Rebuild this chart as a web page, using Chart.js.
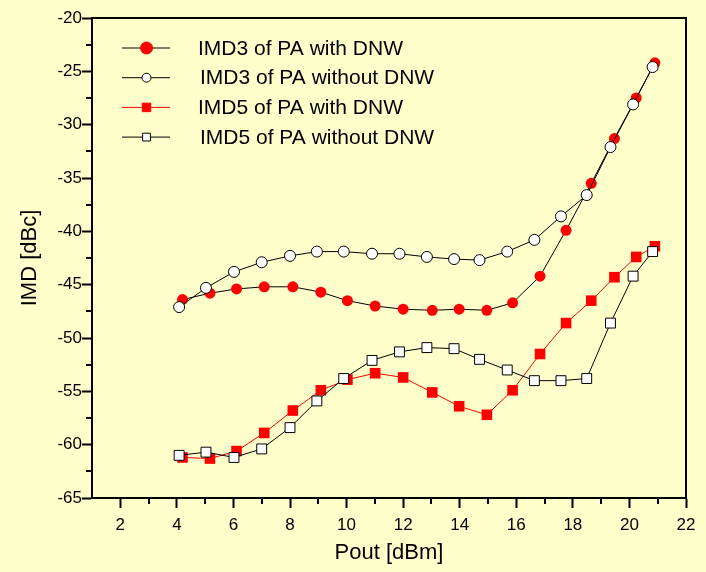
<!DOCTYPE html>
<html>
<head>
<meta charset="utf-8">
<title>IMD vs Pout</title>
<script src="https://cdn.jsdelivr.net/npm/chart.js@4.4.1/dist/chart.umd.min.js"></script>
<style>
  body { margin: 0; background: #ffffcc; }
  canvas { display: block; }
</style>
</head>
<body>
<canvas id="imdChart" width="706" height="572"></canvas>
<script>
// Pout values (dBm) for the two measurement runs
const poutWithDnw = [4.2, 5.17, 6.11, 7.09, 8.1, 9.09, 10.03, 11.01, 12.0, 13.03, 13.98, 14.96, 15.87, 16.84, 17.76, 18.65, 19.47, 20.24, 20.9];
const poutWithoutDnw = [4.08, 5.03, 6.02, 7.0, 8.0, 8.95, 9.9, 10.9, 11.87, 12.84, 13.8, 14.7, 15.68, 16.64, 17.58, 18.49, 19.33, 20.13, 20.82];

// IMD values (dBc)
const imd3WithDnw = [-46.4, -45.8, -45.4, -45.2, -45.2, -45.7, -46.5, -47.0, -47.3, -47.4, -47.3, -47.4, -46.7, -44.2, -39.9, -35.5, -31.3, -27.5, -24.2];
const imd3WithoutDnw = [-47.1, -45.3, -43.8, -42.9, -42.3, -41.9, -41.9, -42.1, -42.1, -42.4, -42.6, -42.7, -41.9, -40.8, -38.6, -36.6, -32.1, -28.1, -24.6];
const imd5WithDnw = [-61.2, -61.3, -60.6, -58.9, -56.8, -54.9, -53.9, -53.3, -53.7, -55.1, -56.4, -57.2, -54.9, -51.5, -48.6, -46.5, -44.3, -42.4, -41.4];
const imd5WithoutDnw = [-61.0, -60.7, -61.2, -60.4, -58.4, -55.9, -53.8, -52.1, -51.3, -50.9, -51.0, -52.0, -53.0, -54.0, -54.0, -53.8, -48.6, -44.2, -41.9];

const seriesNames = [
  "IMD3 of PA with DNW",
  "IMD3 of PA without DNW",
  "IMD5 of PA with DNW",
  "IMD5 of PA without DNW",
];

// tick labels
const xTicks = [2, 4, 6, 8, 10, 12, 14, 16, 18, 20, 22];
const xMinorTicks = [3, 5, 7, 9, 11, 13, 15, 17, 19, 21];
const yTicks = [-65, -60, -55, -50, -45, -40, -35, -30, -25, -20];
const yMinorTicks = [-62.5, -57.5, -52.5, -47.5, -42.5, -37.5, -32.5, -27.5, -22.5];

const FONT = '"Liberation Sans", Arial, sans-serif';
Chart.defaults.font.family = FONT;
Chart.defaults.color = "#000";

function toPoints(xs, ys) {
  return xs.map((x, i) => ({ x: x, y: ys[i] }));
}

// frame on top/right, minor ticks, and legend inside the plot
const decorations = {
  id: "decorations",
  afterDatasetsDraw(chart) {
    const { ctx, chartArea, scales } = chart;
    ctx.save();
    ctx.strokeStyle = "#000";
    ctx.lineWidth = 2;

    // top and right edges of the box
    ctx.beginPath();
    ctx.moveTo(chartArea.left, chartArea.top);
    ctx.lineTo(chartArea.right, chartArea.top);
    ctx.lineTo(chartArea.right, chartArea.bottom);
    ctx.stroke();

    // minor ticks
    ctx.beginPath();
    xMinorTicks.forEach((v) => {
      const px = Math.round(scales.x.getPixelForValue(v));
      ctx.moveTo(px, chartArea.bottom);
      ctx.lineTo(px, chartArea.bottom + 6);
    });
    yMinorTicks.forEach((v) => {
      const py = Math.round(scales.y.getPixelForValue(v));
      ctx.moveTo(chartArea.left - 6, py);
      ctx.lineTo(chartArea.left, py);
    });
    ctx.stroke();

    // legend
    const legendMarkers = [
      { style: "circle", radius: 6 },
      { style: "circle", radius: 4.5 },
      { style: "rect", radius: 6 },
      { style: "rect", radius: 5.5 },
    ];
    chart.data.datasets.forEach((ds, i) => {
      const y = chartArea.top + 30 + i * 29.7;
      const x0 = chartArea.left + 30;
      const x1 = chartArea.left + 78;
      const xm = chartArea.left + 54.5;
      ctx.strokeStyle = ds.borderColor;
      ctx.lineWidth = 1;
      ctx.beginPath();
      ctx.moveTo(x0, y);
      ctx.lineTo(x1, y);
      ctx.stroke();

      ctx.fillStyle = ds.pointBackgroundColor;
      ctx.strokeStyle = ds.pointBorderColor;
      ctx.lineWidth = 1;
      Chart.helpers.drawPoint(ctx, {
        pointStyle: legendMarkers[i].style,
        radius: legendMarkers[i].radius,
        borderWidth: 1,
        rotation: 0,
      }, xm, y);

      ctx.fillStyle = "#000";
      ctx.font = "21px " + FONT;
      ctx.textBaseline = "middle";
      ctx.textAlign = "left";
      ctx.fillText(ds.label, chartArea.left + (i % 2 === 0 ? 106 : 108), y + 1);
    });
    ctx.restore();
  },
};

new Chart(document.getElementById("imdChart"), {
  type: "line",
  data: {
    datasets: [
      {
        label: seriesNames[0],
        data: toPoints(poutWithDnw, imd3WithDnw),
        borderColor: "#000",
        borderWidth: 1,
        pointStyle: "circle",
        pointRadius: 5.5,
        pointBackgroundColor: "#ff0000",
        pointBorderColor: "#ff0000",
        pointBorderWidth: 0,
        order: 2,
      },
      {
        label: seriesNames[1],
        data: toPoints(poutWithoutDnw, imd3WithoutDnw),
        borderColor: "#000",
        borderWidth: 1,
        pointStyle: "circle",
        pointRadius: 5.5,
        pointBackgroundColor: "#fff",
        pointBorderColor: "#000",
        pointBorderWidth: 1,
        order: 0,
      },
      {
        label: seriesNames[2],
        data: toPoints(poutWithDnw, imd5WithDnw),
        borderColor: "#ff0000",
        borderWidth: 1,
        pointStyle: "rect",
        pointRadius: 7.5,
        pointBackgroundColor: "#ff0000",
        pointBorderColor: "#ff0000",
        pointBorderWidth: 0,
        order: 3,
      },
      {
        label: seriesNames[3],
        data: toPoints(poutWithoutDnw, imd5WithoutDnw),
        borderColor: "#000",
        borderWidth: 1,
        pointStyle: "rect",
        pointRadius: 7,
        pointBackgroundColor: "#fff",
        pointBorderColor: "#000",
        pointBorderWidth: 1,
        order: 1,
      },
    ],
  },
  options: {
    responsive: false,
    animation: false,
    layout: { padding: { top: 18, right: 20, left: 0, bottom: 0 } },
    plugins: {
      legend: { display: false },
      tooltip: { enabled: false },
    },
    elements: { line: { tension: 0 } },
    scales: {
      x: {
        type: "linear",
        min: 1,
        max: 22,
        afterBuildTicks: (axis) => {
          axis.ticks = xTicks.map((v) => ({ value: v }));
        },
        afterFit: (axis) => {
          axis.height = 74;
        },
        ticks: {
          font: { size: 17 },
          padding: 7,
          maxRotation: 0,
          callback: (v) => String(v),
        },
        grid: {
          drawOnChartArea: false,
          tickLength: 10,
          tickWidth: 2,
          color: "#000",
        },
        border: { color: "#000", width: 2 },
        title: {
          display: true,
          text: "Pout [dBm]",
          font: { size: 22 },
          padding: { top: 0, bottom: 6 },
        },
      },
      y: {
        min: -65,
        max: -20,
        afterBuildTicks: (axis) => {
          axis.ticks = yTicks.map((v) => ({ value: v }));
        },
        afterFit: (axis) => {
          axis.width = 92;
        },
        ticks: {
          font: { size: 17 },
          padding: 0,
          callback: (v) => String(v),
        },
        grid: {
          drawOnChartArea: false,
          tickLength: 10,
          tickWidth: 2,
          color: "#000",
        },
        border: { color: "#000", width: 2 },
        title: {
          display: true,
          text: "IMD [dBc]",
          font: { size: 22 },
          padding: { top: 17, bottom: 0 },
        },
      },
    },
  },
  plugins: [decorations],
});
</script>
</body>
</html>
